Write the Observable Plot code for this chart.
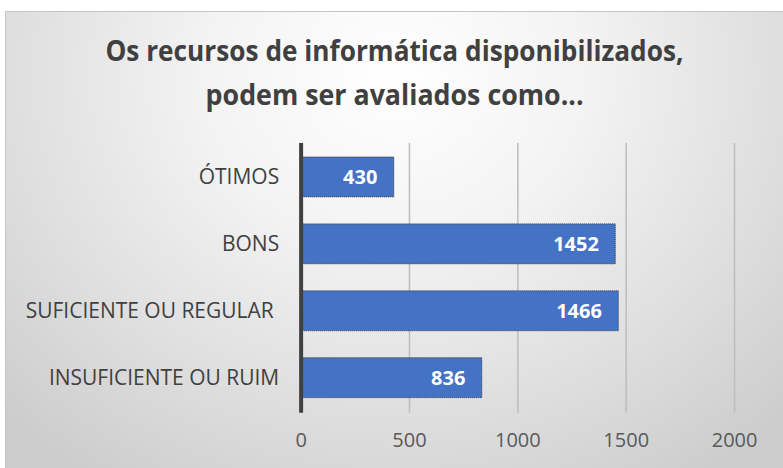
<!DOCTYPE html>
<html>
<head>
<meta charset="utf-8">
<script src="https://cdn.jsdelivr.net/npm/d3@7"></script>
<script src="https://cdn.jsdelivr.net/npm/@observablehq/plot@0.6"></script>
<style>
  html, body { margin: 0; padding: 0; background: #ffffff; }
  #wrap {
    position: absolute; left: 5px; top: 11px; width: 778px; height: 457px;
    box-sizing: border-box; border-top: 1px solid #c4c4c4; border-left: 1px solid #c4c4c4;
    background: radial-gradient(ellipse 70% 105% at 50% 14%, #ffffff 0%, #f3f3f3 35%, #dcdcdc 75%, #cdcdcd 100%);
    overflow: hidden;
  }
  #title {
    height: 118px; box-sizing: border-box; padding-top: 16px;
    text-align: center; font-family: "Open Sans", sans-serif; font-weight: 700;
    font-size: 29px; line-height: 44px; color: #404040;
  }
  #title span { display: inline-block; white-space: nowrap; transform-origin: 50% 50%; }
  #chart svg g[aria-label="y-axis tick label"] text { white-space: pre; }
</style>
</head>
<body>
<div id="wrap">
  <div id="title"><span id="t1">Os recursos de informática disponibilizados,</span><br><span id="t2">podem ser avaliados como...</span></div>
  <div id="chart"></div>
</div>
<script>
const categories = ["ÓTIMOS", "BONS", "SUFICIENTE OU REGULAR ", "INSUFICIENTE OU RUIM"];
const values = [430, 1452, 1466, 836];
const xTicks = [0, 500, 1000, 1500, 2000];
const gridTicks = [500, 1000, 1500, 2000];

const data = categories.map((c, i) => ({category: c, value: values[i]}));

// condense title to match the narrow original typeface
const t1 = document.getElementById("t1"), t2 = document.getElementById("t2");
const s1 = 578 / t1.getBoundingClientRect().width;
const s2 = 378 / t2.getBoundingClientRect().width;
t1.style.transform = `scaleX(${s1})`;
t2.style.transform = `scaleX(${s2})`;

const chart = Plot.plot({
  width: 778,
  height: 339,
  marginLeft: 295,
  marginRight: 49,
  marginTop: 13,
  marginBottom: 56,
  style: {fontFamily: "Open Sans, sans-serif", background: "transparent", overflow: "visible"},
  x: {domain: [0, 2000], ticks: xTicks, label: null},
  y: {domain: categories, paddingInner: 0.4, paddingOuter: 0.19, label: null},
  marks: [
    Plot.ruleX(gridTicks, {stroke: "#bdbdbd", strokeWidth: 1.5}),
    Plot.barX(data, {y: "category", x: "value", fill: "#4472C4", stroke: "#3a3a3a", strokeDasharray: "1,1", strokeWidth: 1}),
    Plot.text(data, {y: "category", x: "value", text: d => String(d.value), textAnchor: "end", dx: -17, fill: "white", fontWeight: "bold", fontSize: 20}),
    Plot.ruleX([0], {stroke: "#404040", strokeWidth: 4}),
    Plot.axisY({tickSize: 0, tickPadding: 22, fontSize: 21, fill: "#404040", label: null}),
    Plot.axisX({tickSize: 0, tickPadding: 20, fontSize: 20, fill: "#595959", label: null, tickFormat: d => String(d)})
  ]
});
document.getElementById("chart").appendChild(chart);
</script>
</body>
</html>
